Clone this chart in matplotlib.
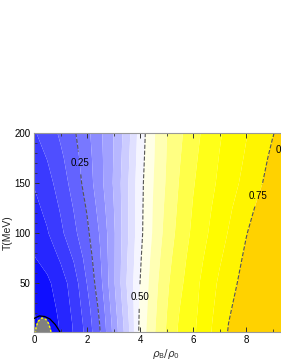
import numpy as np
import matplotlib
matplotlib.use("Agg")
import matplotlib.pyplot as plt
from matplotlib.colors import LinearSegmentedColormap

plt.rcParams['font.family'] = ['Liberation Sans', 'DejaVu Sans']
plt.rcParams['mathtext.fontset'] = 'dejavusans'

# grid
rho = [0, 0.5, 1, 1.5, 2, 2.5, 3, 3.5, 4, 4.5, 5, 5.5, 6, 7, 8, 9, 10]
temp = [0, 10, 25, 50, 75, 100, 125, 150, 175, 200]
frac_T0 = [0.06, 0.075, 0.11, 0.145, 0.19, 0.25, 0.33, 0.41, 0.51, 0.565, 0.61, 0.65, 0.672, 0.733, 0.79, 0.83, 0.87]
frac_T10 = [0.065, 0.078, 0.112, 0.147, 0.193, 0.253, 0.333, 0.413, 0.508, 0.563, 0.608, 0.648, 0.671, 0.731, 0.787, 0.827, 0.867]
frac_T25 = [0.075, 0.087, 0.117, 0.152, 0.2, 0.26, 0.34, 0.42, 0.505, 0.56, 0.605, 0.643, 0.668, 0.727, 0.777, 0.82, 0.86]
frac_T50 = [0.09, 0.10, 0.125, 0.16, 0.215, 0.275, 0.35, 0.43, 0.50, 0.555, 0.60, 0.635, 0.665, 0.72, 0.765, 0.81, 0.85]
frac_T75 = [0.105, 0.12, 0.147, 0.182, 0.228, 0.283, 0.35, 0.425, 0.495, 0.548, 0.593, 0.628, 0.658, 0.71, 0.757, 0.80, 0.84]
frac_T100 = [0.12, 0.14, 0.17, 0.205, 0.242, 0.29, 0.35, 0.42, 0.49, 0.54, 0.585, 0.62, 0.65, 0.70, 0.748, 0.79, 0.83]
frac_T125 = [0.133, 0.152, 0.182, 0.216, 0.253, 0.30, 0.355, 0.42, 0.489, 0.538, 0.58, 0.615, 0.645, 0.693, 0.737, 0.778, 0.815]
frac_T150 = [0.145, 0.165, 0.195, 0.228, 0.265, 0.31, 0.36, 0.42, 0.488, 0.535, 0.575, 0.61, 0.64, 0.685, 0.725, 0.765, 0.80]
frac_T175 = [0.16, 0.18, 0.207, 0.236, 0.27, 0.312, 0.358, 0.415, 0.484, 0.532, 0.572, 0.605, 0.635, 0.68, 0.718, 0.757, 0.79]
frac_T200 = [0.175, 0.195, 0.22, 0.245, 0.276, 0.315, 0.357, 0.41, 0.48, 0.53, 0.57, 0.60, 0.63, 0.675, 0.712, 0.748, 0.78]

# grey (undefined) pocket near origin and its black border
gray_rho = [0.05, 0.08, 0.15, 0.3, 0.45, 0.55, 0.62, 0.65]
gray_T = [0, 6, 12, 15.5, 14, 10, 4, 0]
edge_rho = [0, 0.2, 0.4, 0.6, 0.8, 0.95, 1.0]
edge_T = [15, 17.5, 17, 14.5, 9, 3, 0]

line_levels = [0.25, 0.5, 0.75]
label_pos = [(1.7, 170), (4.0, 36), (8.64, 136)]

Z = np.array([frac_T0, frac_T10, frac_T25, frac_T50, frac_T75, frac_T100,
              frac_T125, frac_T150, frac_T175, frac_T200])
X, Y = np.meshgrid(rho, temp)

cmap = LinearSegmentedColormap.from_list("by", [(0, '#0000ff'), (0.06, '#0000ff'), (0.5, '#ffffff'),
                                                (0.68, '#ffff00'), (0.75, '#fff200'), (1.0, '#fff200')])
levels = list(np.linspace(0, 0.75, 22)) + [1.0]
cols = [cmap(0.5 * (levels[i] + levels[i + 1])) for i in range(len(levels) - 2)] + ['#ffd200']

fig = plt.figure(figsize=(2.81, 3.63), dpi=100)
ax = fig.add_axes([34 / 281, 1 - 332 / 363, 265 / 281, 199 / 363])

ax.contourf(X, Y, Z, levels=levels, colors=cols, antialiased=True)
cs = ax.contour(X, Y, Z, levels=line_levels, colors='#555555', linewidths=0.8, linestyles='--')
lbls = ax.clabel(cs, fmt='%.2f', fontsize=7, inline=True, inline_spacing=2, manual=label_pos)
for t in lbls:
    t.set_rotation(0)
    t.set_color('black')

ax.fill(gray_rho, gray_T, color='#808080', zorder=3)
ax.plot(gray_rho, gray_T, color='#ffff00', lw=1.0, ls=(0, (1.5, 1.5)), zorder=4)
ax.plot(edge_rho, edge_T, color='black', lw=0.9, zorder=4)

ax.text(9.13, 183, '0.90', fontsize=7, va='center', ha='left')

ax.set_xlim(0, 10)
ax.set_ylim(1.5, 200)
ax.set_xticks([0, 2, 4, 6, 8])
ax.set_xticks(np.arange(0, 10.1, 1), minor=True)
ax.set_yticks([50, 100, 150, 200])
ax.set_yticks(np.arange(10, 201, 10), minor=True)
ax.tick_params(which='both', direction='in', top=True, right=True, labelsize=7, color='#333333', pad=2.5)
ax.tick_params(which='major', length=3.5, width=0.7)
ax.tick_params(which='minor', length=2, width=0.6)
for s in ax.spines.values():
    s.set_color('#999999')
    s.set_linewidth(0.8)

ax.set_xlabel(r'$\rho_\mathrm{B}/\rho_0$', fontsize=7.5, color='#333333', labelpad=1)
ax.set_ylabel('T(MeV)', fontsize=7.5, color='#222222', labelpad=1)

fig.savefig('out.png', dpi=100)
